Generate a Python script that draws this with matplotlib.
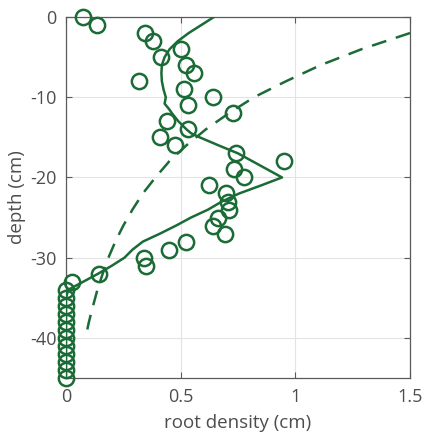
import matplotlib
matplotlib.use("Agg")
import matplotlib.pyplot as plt

# Observed root density (circles)
obs_depth = [0, -1, -2, -3, -4, -5, -6, -7, -8, -9, -10, -11, -12, -13, -14, -15,
             -16, -17, -18, -19, -20, -21, -22, -23, -24, -25, -26, -27, -28, -29,
             -30, -31, -32, -33, -34, -35, -36, -37, -38, -39, -40, -41, -42, -43,
             -44, -45]
obs_density = [0.074, 0.135, 0.346, 0.38, 0.503, 0.413, 0.525, 0.557, 0.319, 0.514,
               0.64, 0.532, 0.73, 0.442, 0.532, 0.409, 0.474, 0.742, 0.952, 0.732,
               0.775, 0.622, 0.699, 0.706, 0.71, 0.662, 0.64, 0.694, 0.525, 0.448,
               0.339, 0.35, 0.145, 0.025, 0, 0, 0, 0, 0, 0, 0, 0, 0, 0, 0, 0]

# Model fit (solid line)
fit_depth = [0, -1, -2, -3, -4, -5, -6, -7, -8, -9, -10, -10.8, -11.5, -12, -13, -14,
             -14.5, -15, -16, -17, -18, -19, -20, -21, -22, -23, -24, -25, -26, -27,
             -28, -29, -30, -31, -32, -33, -34, -35, -45]
fit_density = [0.645, 0.59, 0.535, 0.488, 0.452, 0.43, 0.418, 0.416, 0.418, 0.425,
               0.435, 0.43, 0.45, 0.462, 0.49, 0.525, 0.546, 0.583, 0.665, 0.75,
               0.814, 0.878, 0.942, 0.85, 0.755, 0.68, 0.62, 0.545, 0.48, 0.41,
               0.335, 0.29, 0.255, 0.2, 0.14, 0.075, 0.01, 0.0, 0.0]

# Reference profile (dashed line)
ref_depth = [-2, -4, -6, -8, -10, -12, -14, -16, -18, -20, -22, -24, -26, -28, -30,
             -32, -34, -36, -38, -40]
ref_density = [1.50, 1.29, 1.11, 0.96, 0.82, 0.71, 0.61, 0.525, 0.45, 0.39, 0.335,
               0.29, 0.25, 0.215, 0.185, 0.16, 0.137, 0.118, 0.10, 0.085]

x_ticks = [0, 0.5, 1, 1.5]
x_ticklabels = ["0", "0.5", "1", "1.5"]
y_ticks = [0, -10, -20, -30, -40]
y_ticklabels = ["0", "-10", "-20", "-30", "-40"]

green = "#1b6b36"
gray = "#4d4d4d"

plt.rcParams['font.family'] = ['Open Sans', 'DejaVu Sans']

fig = plt.figure(figsize=(4.28, 4.40), dpi=100)
ax = fig.add_axes([66/428, 1 - 378/440, (410-66)/428, (378-17)/440])

ax.plot(obs_density, obs_depth, linestyle='none', marker='o', markersize=11,
        markerfacecolor='none', markeredgecolor=green, markeredgewidth=1.8,
        clip_on=False, zorder=3)
ax.plot(fit_density, fit_depth, color=green, linewidth=1.8, zorder=3)
ax.plot(ref_density, ref_depth, color=green, linewidth=1.8,
        linestyle=(0, (6.0, 4.0)), zorder=3)

ax.set_xlim(0, 1.5)
ax.set_ylim(-45, 0)
ax.set_xticks(x_ticks)
ax.set_xticklabels(x_ticklabels)
ax.set_yticks(y_ticks)
ax.set_yticklabels(y_ticklabels)
ax.grid(True, color="#e3e3e3", linewidth=0.8)
ax.set_axisbelow(True)
for s in ax.spines.values():
    s.set_color("#5a5a5a")
    s.set_linewidth(0.9)
ax.tick_params(direction='in', length=4, width=0.8, colors="#5a5a5a",
               labelcolor=gray, labelsize=13, top=True, right=True, pad=7)
ax.set_xlabel("root density (cm)", fontsize=13.5, color=gray, labelpad=6)
ax.set_ylabel("depth (cm)", fontsize=13.5, color=gray, labelpad=3)

fig.savefig("out.png", dpi=100)
